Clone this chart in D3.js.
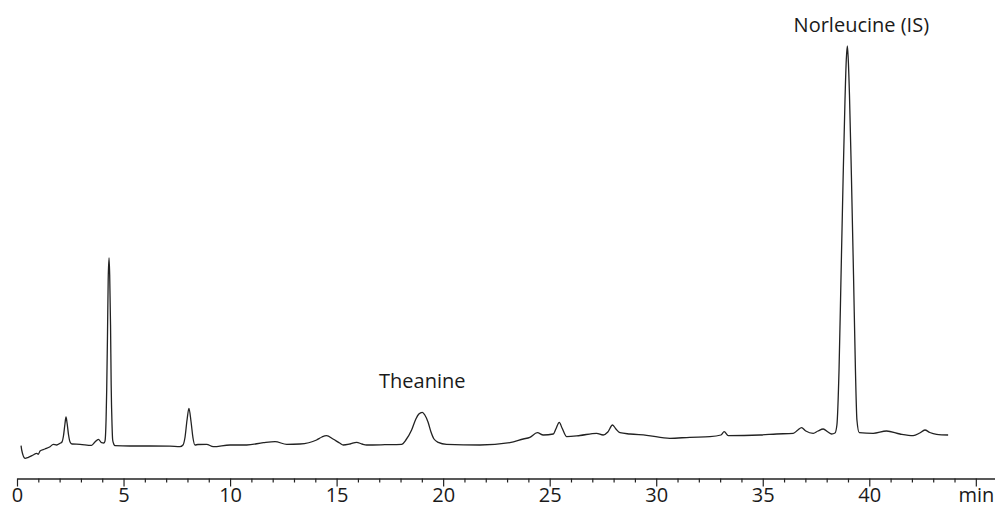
<!DOCTYPE html>
<html>
    <head>
        <title>Chromatogram</title>
        <meta charset="utf-8">
        <style>
            html, body {
                margin: 0px;
                padding: 0px;
                background-color: #fff;
                font-family: "Open Sans", sans-serif;
            }

            svg text {
                fill: #1a1a1a;
                font-size: 20px;
            }

            .trace {
                fill: none;
                stroke: #222;
                stroke-width: 1.3;
            }

            .timeAxis .domain,
            .timeAxis line {
                stroke: #222;
                stroke-width: 1.2;
            }

            .timeAxis text {
                font-family: "Open Sans", sans-serif;
                font-size: 20px;
            }
        </style>
        <script src="https://cdn.jsdelivr.net/npm/d3@7"></script>
    </head>
    <body>
        <div id="main"></div>

        <script>
            // retention time (min) and detector signal (arbitrary units)
            var times = [
                0.19, 0.22, 0.38, 0.53, 0.76, 0.92, 1.00, 1.08, 1.31, 1.55, 1.70, 1.86, 2.02, 2.11,
                2.18, 2.25, 2.30, 2.35, 2.42, 2.49, 2.58, 2.96, 3.50, 3.66, 3.82, 3.97, 4.08, 4.13,
                4.18, 4.21, 4.25, 4.28, 4.32, 4.35, 4.39, 4.42, 4.46, 4.49, 4.55, 4.60, 5.30, 6.24,
                7.18, 7.65, 7.79, 7.88, 7.98, 8.07, 8.17, 8.26, 8.35, 8.49, 8.90, 9.21, 10.00, 10.78,
                11.56, 12.11, 12.66, 13.28, 14.06, 14.31, 14.53, 14.83, 15.16, 15.31, 15.63, 15.94, 16.19, 16.41,
                17.27, 18.05, 18.25, 18.52, 18.72, 18.86, 19.02, 19.14, 19.29, 19.43, 19.57, 19.77, 20.16, 21.73,
                23.13, 23.76, 24.07, 24.42, 24.70, 25.17, 25.29, 25.45, 25.58, 25.80, 26.42, 27.20, 27.51, 27.73,
                27.95, 28.11, 28.30, 28.77, 29.55, 30.64, 31.58, 32.52, 33.04, 33.19, 33.38, 34.87, 35.65, 36.43,
                36.65, 36.82, 37.02, 37.37, 37.59, 37.84, 38.06, 38.23, 38.39, 38.48, 38.58, 38.67, 38.77, 38.86,
                38.92, 38.97, 39.01, 39.07, 39.16, 39.26, 39.35, 39.42, 39.53, 40.18, 40.81, 41.44, 42.06, 42.37,
                42.61, 42.84, 43.16, 43.70
            ];
            var signal = [
                4.3, 0, -8.3, -7.3, -5, -3.3, -4.3, -1, 1, 3.3, 5.7, 5, 6.7, 8,
                14, 26, 33, 27, 15, 8, 6, 5.7, 4.7, 8, 10.7, 7.3, 7, 9,
                30, 60, 120, 170, 192, 175, 125, 65, 25, 10, 5.5, 4.3, 4, 4,
                3.8, 3.3, 5, 12, 30, 41.7, 28, 12, 5, 5.5, 5.7, 3.3, 5, 5,
                7.3, 8.3, 5.7, 6, 10, 13, 14.3, 11, 6.7, 5, 6, 7.7, 6, 5,
                5.3, 5.7, 10, 20, 31, 36, 37.7, 35, 28, 18, 11, 7.7, 5.7, 5,
                7.3, 11, 12.7, 17.3, 15, 16, 21, 27.7, 22, 13.3, 14.5, 16.7, 15, 18,
                25, 21, 17.3, 16, 14.7, 11.7, 12.7, 13.3, 15, 18.3, 14.3, 15, 16, 16.7,
                20, 22.3, 19, 16.7, 19, 21, 18, 16, 17, 25, 80, 170, 270, 350,
                390, 404, 392, 355, 275, 175, 80, 30, 17.3, 16.7, 19, 16, 14.3, 17,
                20, 17.5, 15.7, 15
            ];

            var majorTicks = [0, 5, 10, 15, 20, 25, 30, 35, 40, 45];
            var tickLabels = ["0", "5", "10", "15", "20", "25", "30", "35", "40", "min"];
            var minorTicks = d3.range(0, 46).filter(function(d) { return d % 5 !== 0; });

            var peakNames = ["Theanine", "Norleucine (IS)"];
            var peakTimes = [19.02, 38.97];
            var peakHeights = [37.7, 404];

            var width = 995;
            var height = 508;

            function chart(svg) {
                var x = d3.scaleLinear()
                            .domain([0, 45.9])
                            .range([17, width]);

                var y = d3.scaleLinear()
                            .domain([0, 404])
                            .range([450, 46]);

                var axisY = 478.5;

                var points = times.map(function(t, i) { return [t, signal[i]]; });

                var line = d3.line()
                    .x(function(d) { return x(d[0]); })
                    .y(function(d) { return y(d[1]); })
                    .curve(d3.curveMonotoneX);

                svg.append("path")
                    .datum(points)
                    .attr("class", "trace")
                    .attr("d", line);

                // minor ticks (every minute)
                svg.append("g")
                    .attr("class", "timeAxis")
                    .attr("transform", "translate(0," + axisY + ")")
                    .call(d3.axisBottom(x)
                        .tickValues(minorTicks)
                        .tickSize(4)
                        .tickSizeOuter(0)
                        .tickFormat(""));

                // major ticks with labels
                svg.append("g")
                    .attr("class", "timeAxis")
                    .attr("transform", "translate(0," + axisY + ")")
                    .call(d3.axisBottom(x)
                        .tickValues(majorTicks)
                        .tickSize(8)
                        .tickSizeOuter(0)
                        .tickPadding(1.5)
                        .tickFormat(function(d, i) { return tickLabels[i]; }))
                    .selectAll("text")
                    .attr("fill", "#1a1a1a");

                svg.selectAll(".peakLabel")
                    .data(peakNames)
                    .enter()
                    .append("text")
                    .attr("class", "peakLabel")
                    .attr("x", function(d, i) { return x(peakTimes[i]) + (i === 1 ? 14 : 0); })
                    .attr("y", function(d, i) { return y(peakHeights[i]) - (i === 1 ? 14.5 : 24); })
                    .style("text-anchor", "middle")
                    .text(function(d) { return d; });
            }

            function main() {
                var svg = d3.select("#main")
                            .append("svg")
                            .attr("width", width)
                            .attr("height", height);
                chart(svg);
            }

            main();
        </script>
    </body>
</html>
